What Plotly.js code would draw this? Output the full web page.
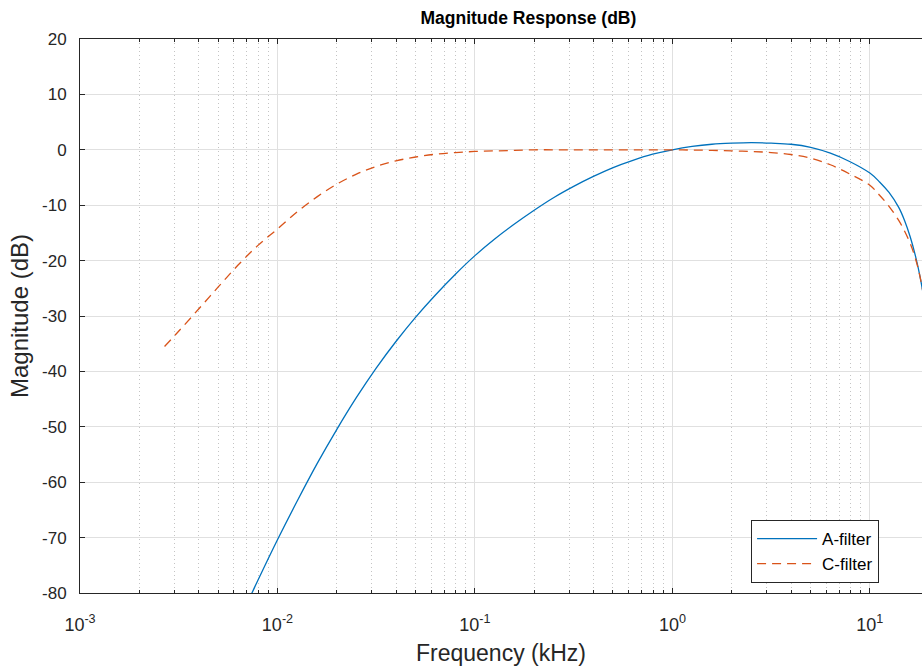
<!DOCTYPE html>
<html>
<head>
<meta charset="utf-8">
<script src="https://cdn.plot.ly/plotly-3.0.1.min.js"></script>
<style>html,body{margin:0;padding:0;background:#fff;}#chart{width:922px;height:671px;}</style>
</head>
<body>
<div id="chart"></div>
<script>
// Frequencies in kHz, magnitudes in dB
const aFreq = [0.00631, 0.00794, 0.01, 0.01259, 0.01585, 0.01995, 0.02512, 0.03162, 0.03981, 0.05012, 0.0631, 0.07943, 0.1, 0.1259, 0.1585, 0.1995, 0.2512, 0.3162, 0.3981, 0.5012, 0.631, 0.7943, 1, 1.259, 1.585, 1.995, 2.512, 3.162, 3.981, 5.012, 6.31, 7.943, 10, 11.2, 12.5, 14, 15, 16, 17, 18, 19];
const aMag  = [-85.4, -77.8, -70.4, -63.4, -56.7, -50.5, -44.7, -39.4, -34.6, -30.2, -26.2, -22.5, -19.1, -16.1, -13.4, -10.9, -8.6, -6.6, -4.8, -3.2, -1.9, -0.8, 0, 0.6, 1.0, 1.2, 1.3, 1.2, 1.0, 0.45, -0.6, -2.15, -4.2, -5.8, -7.7, -10.4, -12.8, -15.7, -19.1, -23.1, -28.0];
const cFreq = [0.00268, 0.00315, 0.004, 0.005, 0.0063, 0.00794, 0.01, 0.01259, 0.01585, 0.01995, 0.02512, 0.03162, 0.03981, 0.05012, 0.0631, 0.07943, 0.1, 0.1259, 0.1585, 0.1995, 0.2512, 0.3162, 0.3981, 0.5012, 0.631, 0.7943, 1, 1.259, 1.585, 1.995, 2.512, 3.162, 3.981, 5.012, 6.31, 7.943, 10, 11.2, 12.5, 14, 15, 16, 17, 18, 19];
const cMag  = [-35.5, -32.8, -28.7, -24.8, -20.85, -17.3, -14.3, -11.2, -8.5, -6.2, -4.4, -3.0, -2.0, -1.3, -0.8, -0.5, -0.3, -0.2, -0.1, 0, 0, 0, 0, 0, 0, 0, 0, -0.05, -0.1, -0.2, -0.3, -0.5, -0.85, -1.5, -2.7, -4.4, -6.4, -8.2, -10.2, -12.75, -14.7, -16.9, -19.6, -23.1, -27.8];
const xTickVals = [0.001, 0.01, 0.1, 1, 10];
const xTickText = ['10<sup>-3</sup>', '10<sup>-2</sup>', '10<sup>-1</sup>', '10<sup>0</sup>', '10<sup>1</sup>'];
const yTickVals = [-80, -70, -60, -50, -40, -30, -20, -10, 0, 10, 20];
const yTickText = ['-80', '-70', '-60', '-50', '-40', '-30', '-20', '-10', '0', '10', '20'];

const FONT = 'Liberation Sans, Arial, sans-serif';

const traces = [
  {x: aFreq, y: aMag, type: 'scatter', mode: 'lines', name: 'A-filter',
   line: {color: '#0072BD', width: 1.3, shape: 'spline', smoothing: 1}},
  {x: cFreq, y: cMag, type: 'scatter', mode: 'lines', name: 'C-filter',
   line: {color: '#D95319', width: 1.3, dash: '9px,6px', shape: 'spline', smoothing: 1}}
];

const layout = {
  width: 922, height: 671,
  margin: {l: 80, r: 0, t: 39, b: 78, pad: 0},
  paper_bgcolor: '#ffffff', plot_bgcolor: '#ffffff',
  font: {family: FONT, size: 17, color: '#262626'},
  showlegend: true,
  title: {text: '<b>Magnitude Response (dB)</b>', x: 491/922, xref: 'paper', xanchor: 'center',
          y: 1 - 18/671, yanchor: 'middle', yref: 'container',
          font: {family: FONT, size: 17.5, color: '#000'}},
  xaxis: {
    type: 'log', range: [-3, 1.264],
    tickvals: xTickVals, ticktext: xTickText,
    ticks: 'inside', ticklen: 5, tickcolor: '#262626',
    showline: true, linecolor: '#262626', linewidth: 1, mirror: 'ticks',
    showgrid: true, gridcolor: '#e0e0e0', gridwidth: 1,
    zeroline: false,
    ticklabelstandoff: 15,
    tickfont: {family: FONT, size: 18, color: '#262626'},
    minor: {dtick: 'D1', ticks: 'inside', ticklen: 3, tickcolor: '#262626',
            showgrid: true, gridcolor: '#c4c4c4', griddash: '1px,3px', gridwidth: 1},
    title: {text: 'Frequency (kHz)', standoff: 11,
            font: {family: FONT, size: 23, color: '#262626'}}
  },
  yaxis: {
    range: [-80, 20], tickvals: yTickVals, ticktext: yTickText,
    ticks: 'inside', ticklen: 5, tickcolor: '#262626',
    showline: true, linecolor: '#262626', linewidth: 1, mirror: false,
    showgrid: true, gridcolor: '#e0e0e0', gridwidth: 1,
    zeroline: false,
    ticklabelstandoff: 9,
    tickfont: {family: FONT, size: 17, color: '#262626'},
    title: {text: 'Magnitude (dB)', standoff: 6,
            font: {family: FONT, size: 24, color: '#262626'}}
  },
  legend: {
    x: 0.797, y: 0.018, xanchor: 'left', yanchor: 'bottom',
    bgcolor: '#ffffff', bordercolor: '#262626', borderwidth: 1,
    font: {family: FONT, size: 17, color: '#000'},
    tracegroupgap: 0, itemwidth: 60
  }
};

Plotly.newPlot('chart', traces, layout, {displayModeBar: false, staticPlot: true});
</script>
</body>
</html>
